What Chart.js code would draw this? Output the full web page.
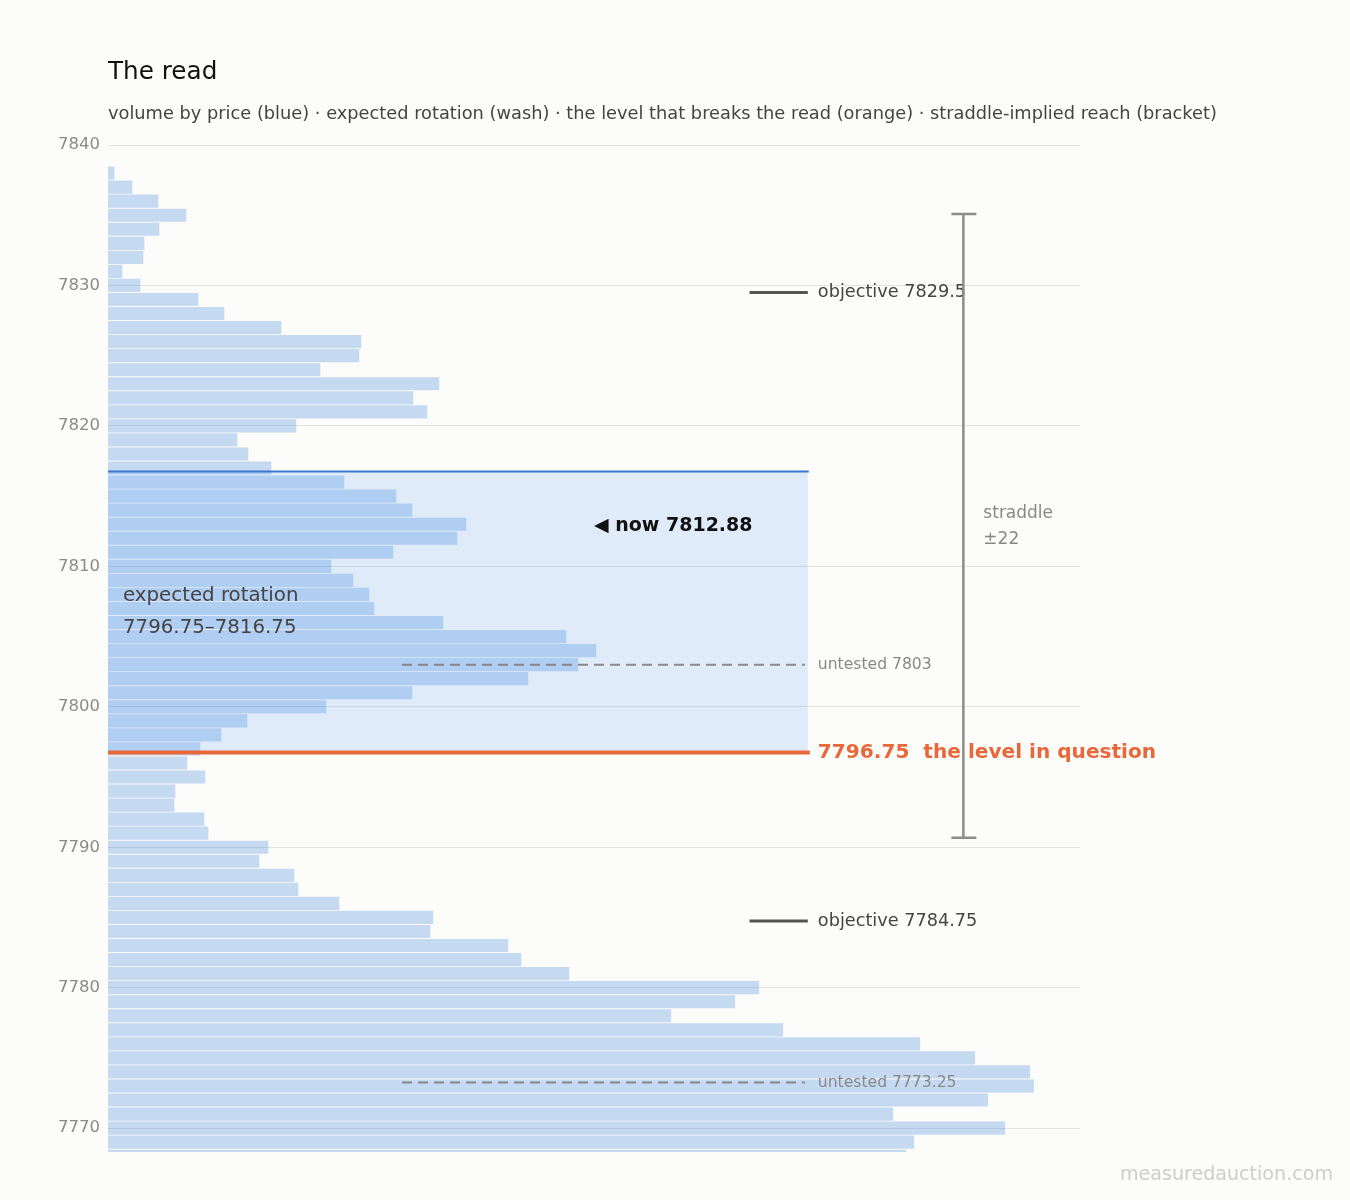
<!DOCTYPE html>
<html>
<head>
<meta charset="utf-8">
<script src="https://cdn.jsdelivr.net/npm/chart.js@4.4.1/dist/chart.umd.min.js"></script>
<style>
  html, body { margin: 0; padding: 0; background: #fcfcfa; }
  #wrap { width: 1350px; height: 1200px; }
</style>
</head>
<body>
<div id="wrap"><canvas id="chart" width="1350" height="1200"></canvas></div>
<script>
// volume profile, one bar per point, top to bottom
const prices = [
  7838, 7837, 7836, 7835, 7834, 7833, 7832, 7831, 7830, 7829,
  7828, 7827, 7826, 7825, 7824, 7823, 7822, 7821, 7820, 7819,
  7818, 7817, 7816, 7815, 7814, 7813, 7812, 7811, 7810, 7809,
  7808, 7807, 7806, 7805, 7804, 7803, 7802, 7801, 7800, 7799,
  7798, 7797, 7796, 7795, 7794, 7793, 7792, 7791, 7790, 7789,
  7788, 7787, 7786, 7785, 7784, 7783, 7782, 7781, 7780, 7779,
  7778, 7777, 7776, 7775, 7774, 7773, 7772, 7771, 7770, 7769,
  7768
];
const volume = [
    6,  24,  50,  78,  51,  36,  35,  14,  32,  90,
  116, 173, 253, 251, 212, 331, 305, 319, 188, 129,
  140, 163, 236, 288, 304, 358, 349, 285, 223, 245,
  261, 266, 335, 458, 488, 470, 420, 304, 218, 139,
  113,  92,  79,  97,  67,  66,  96, 100, 160, 151,
  186, 190, 231, 325, 322, 400, 413, 461, 651, 627,
  563, 675, 812, 867, 922, 926, 880, 785, 897, 806,
  798
];
const yTicks = [7770, 7780, 7790, 7800, 7810, 7820, 7830, 7840];

// levels
const nowPrice = 7812.88;
const rotationLow = 7796.75;
const rotationHigh = 7816.75;
const objectives = [7829.5, 7784.75];
const untested = [7803, 7773.25];
const straddle = 22.2;

const FONT = '"DejaVu Sans", sans-serif';

// horizontal placement of the overlays, as share of the plot width
const WASH_END = 0.72;
const OBJ_START = 0.66;
const UNTESTED_START = 0.3025;
const NOW_X = 0.5;
const BRACKET_X = 0.88;

const overlay = {
  id: 'overlay',
  beforeDatasetsDraw(chart) {
    const { ctx, chartArea: a, scales: { y } } = chart;
    const xAt = f => a.left + (a.right - a.left) * f;
    const top = y.getPixelForValue(rotationHigh);
    const bot = y.getPixelForValue(rotationLow);
    ctx.save();
    ctx.fillStyle = 'rgba(40,125,245,0.13)';
    ctx.fillRect(a.left, top, xAt(WASH_END) - a.left, bot - top);
    ctx.restore();
  },
  afterDatasetsDraw(chart) {
    const { ctx, chartArea: a, scales: { y } } = chart;
    const xAt = f => a.left + (a.right - a.left) * f;
    const xEnd = xAt(WASH_END);
    const labelX = xEnd + 10;
    ctx.save();
    ctx.textBaseline = 'middle';
    ctx.textAlign = 'left';

    // title + subtitle
    ctx.fillStyle = '#111';
    ctx.font = '24.7px ' + FONT;
    ctx.fillText('The read', a.left, 73);
    ctx.fillStyle = '#444';
    ctx.font = '17.8px ' + FONT;
    ctx.fillText('volume by price (blue) \u00b7 expected rotation (wash) \u00b7 the level that breaks the read (orange) \u00b7 straddle-implied reach (bracket)', a.left, 114);

    // rotation top edge
    let py = y.getPixelForValue(rotationHigh);
    ctx.strokeStyle = '#3a76cc';
    ctx.lineWidth = 2;
    ctx.beginPath(); ctx.moveTo(a.left, py); ctx.lineTo(xEnd + 1, py); ctx.stroke();

    // wash label
    const mid = y.getPixelForValue((rotationLow + rotationHigh) / 2);
    ctx.fillStyle = '#444';
    ctx.font = '19.8px ' + FONT;
    ctx.fillText('expected rotation', a.left + 15, mid - 16);
    ctx.fillText(rotationLow + '\u2013' + rotationHigh, a.left + 15, mid + 16);

    // now
    ctx.fillStyle = '#111';
    ctx.font = 'bold 19px ' + FONT;
    ctx.fillText('\u25c0 now ' + nowPrice, xAt(NOW_X), y.getPixelForValue(nowPrice));

    // objectives
    objectives.forEach(v => {
      const p = y.getPixelForValue(v);
      ctx.strokeStyle = '#555';
      ctx.lineWidth = 3;
      ctx.beginPath(); ctx.moveTo(xAt(OBJ_START), p); ctx.lineTo(xEnd, p); ctx.stroke();
      ctx.fillStyle = '#444';
      ctx.font = '17.7px ' + FONT;
      ctx.fillText('objective ' + v, labelX, p);
    });

    // untested levels
    untested.forEach(v => {
      const p = y.getPixelForValue(v);
      ctx.strokeStyle = '#888';
      ctx.lineWidth = 2;
      ctx.setLineDash([10, 6]);
      ctx.beginPath(); ctx.moveTo(xAt(UNTESTED_START), p); ctx.lineTo(xEnd - 3, p); ctx.stroke();
      ctx.setLineDash([]);
      ctx.fillStyle = '#888';
      ctx.font = '15.6px ' + FONT;
      ctx.fillText('untested ' + v, labelX, p);
    });

    // straddle bracket
    const bx = xAt(BRACKET_X);
    const bt = y.getPixelForValue(nowPrice + straddle);
    const bb = y.getPixelForValue(nowPrice - straddle);
    ctx.strokeStyle = '#8c8c88';
    ctx.lineWidth = 2.5;
    ctx.beginPath();
    ctx.moveTo(bx, bt); ctx.lineTo(bx, bb);
    ctx.moveTo(bx - 12, bt); ctx.lineTo(bx + 13, bt);
    ctx.moveTo(bx - 12, bb); ctx.lineTo(bx + 13, bb);
    ctx.stroke();
    const np = y.getPixelForValue(nowPrice);
    ctx.fillStyle = '#888';
    ctx.font = '17px ' + FONT;
    ctx.fillText('straddle', bx + 20, np - 12);
    ctx.fillText('\u00b1' + Math.round(straddle), bx + 20, np + 14);

    // the level in question
    py = y.getPixelForValue(rotationLow);
    ctx.strokeStyle = '#e9683a';
    ctx.lineWidth = 4;
    ctx.beginPath(); ctx.moveTo(a.left, py); ctx.lineTo(xEnd + 2, py); ctx.stroke();
    ctx.fillStyle = '#e9683a';
    ctx.font = 'bold 20.1px ' + FONT;
    ctx.fillText(rotationLow + '  the level in question', labelX, py);

    // watermark
    ctx.fillStyle = '#cdcdcb';
    ctx.font = '19.1px ' + FONT;
    ctx.textAlign = 'right';
    ctx.fillText('measuredauction.com', 1333, 1175);
    ctx.restore();
  }
};

new Chart(document.getElementById('chart'), {
  type: 'bar',
  data: {
    datasets: [{
      data: prices.map((p, i) => ({ x: volume[i], y: p })),
      backgroundColor: 'rgba(30,110,215,0.25)',
      borderWidth: 0,
      barThickness: 12.5,
      clip: 0
    }]
  },
  options: {
    indexAxis: 'y',
    responsive: false,
    animation: false,
    layout: { padding: { left: 0, top: 145, right: 270, bottom: 48 } },
    plugins: { legend: { display: false }, tooltip: { enabled: false } },
    scales: {
      x: {
        type: 'linear',
        min: 0,
        max: Math.max(...volume) * 1.05,
        display: false
      },
      y: {
        type: 'linear',
        min: 7768.3,
        max: 7840,
        offset: false,
        afterFit(scale) { scale.width = 108; },
        afterBuildTicks(scale) { scale.ticks = yTicks.map(v => ({ value: v })); },
        border: { display: false },
        grid: { color: '#e3e3e0', lineWidth: 1, drawTicks: false, offset: false },
        ticks: {
          padding: 8,
          color: '#8a8a88',
          font: { family: 'DejaVu Sans', size: 16.5 },
          callback: v => String(v)
        }
      }
    }
  },
  plugins: [overlay]
});
</script>
</body>
</html>
